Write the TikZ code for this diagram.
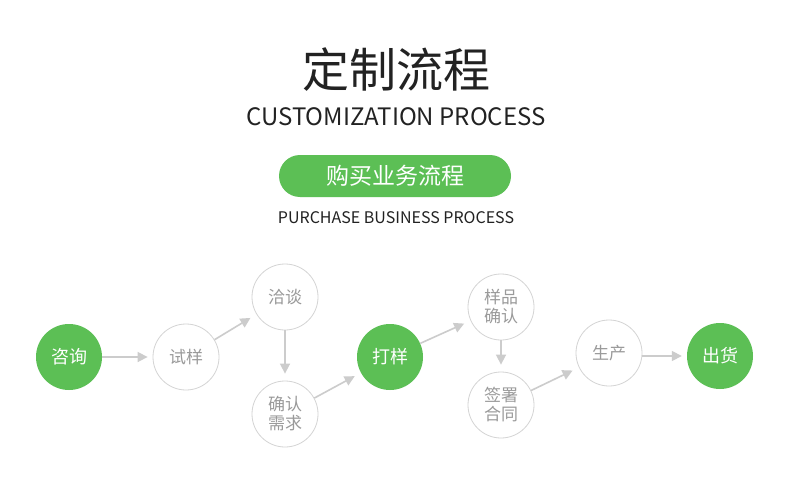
\documentclass[tikz,border=0pt]{standalone}
\usepackage{fontspec}
\setmainfont{Noto Sans CJK SC}
\usetikzlibrary{arrows.meta, positioning, calc}

\definecolor{flowgreen}{HTML}{5CBF55}
\definecolor{ringgray}{HTML}{D4D4D4}
\definecolor{linegray}{HTML}{CCCCCC}
\definecolor{textgray}{HTML}{9A9A9A}
\definecolor{titleink}{HTML}{222222}

\begin{document}
\begin{tikzpicture}[
		x=1pt, y=-1pt,
		arrow/.style={-{Triangle[length=10pt, width=10pt]}, line width=1.6pt, draw=linegray, shorten >=7pt},
		stage/.style={circle, draw=ringgray, line width=0.8pt, minimum size=66pt, inner sep=0pt, text=textgray, align=center, font=\fontsize{17}{19}\selectfont},
		key/.style={circle, fill=flowgreen, minimum size=66pt, inner sep=0pt, text=white, font=\fontsize{18}{20}\selectfont},
		pill/.style={rectangle, rounded corners=21pt, fill=flowgreen, minimum width=232pt, minimum height=42pt, text=white, font=\fontsize{23}{25}\selectfont}
		]
		\useasboundingbox[fill=white] (0,0) rectangle (790,487);
		
		% 1. Headings
		\node[text=titleink, font=\fontsize{47}{50}\selectfont] (title) at (396,70) {定制流程};
		\node[text=titleink, font=\fontsize{24}{27}\selectfont] (subtitle) at (396,117) {CUSTOMIZATION PROCESS};
		\node[pill] (banner) at (395,176) {购买业务流程};
		\node[text=titleink, font=\fontsize{16}{18}\selectfont] (bannersub) at (396,218) {PURCHASE BUSINESS PROCESS};
		
		% 2. Stages
		\node[key] (consult) at (69,357) {咨询};
		\node[stage] (trial) at (186,357) {试样};
		\node[stage] (talk) at (285,297) {洽谈};
		\node[stage] (needs) at (285,414) {确认\\需求};
		\node[key] (proof) at (390,357) {打样};
		\node[stage] (check) at (501,307) {样品\\确认};
		\node[stage] (sign) at (501,405) {签署\\合同};
		\node[stage] (make) at (609,353) {生产};
		\node[key] (ship) at (720,356) {出货};
		
		% Arrows
		\draw[arrow, shorten >=5pt] (consult) -- (trial);
		\draw[arrow] (trial) -- (talk);
		\draw[arrow] (talk) -- (needs);
		\draw[arrow] (needs) -- (proof);
		\draw[arrow] (proof) -- (check);
		\draw[arrow] (check) -- (sign);
		\draw[arrow] (sign) -- (make);
		\draw[arrow, shorten >=5pt] (make.east |- ship) -- (ship);
	\end{tikzpicture}
\end{document}
